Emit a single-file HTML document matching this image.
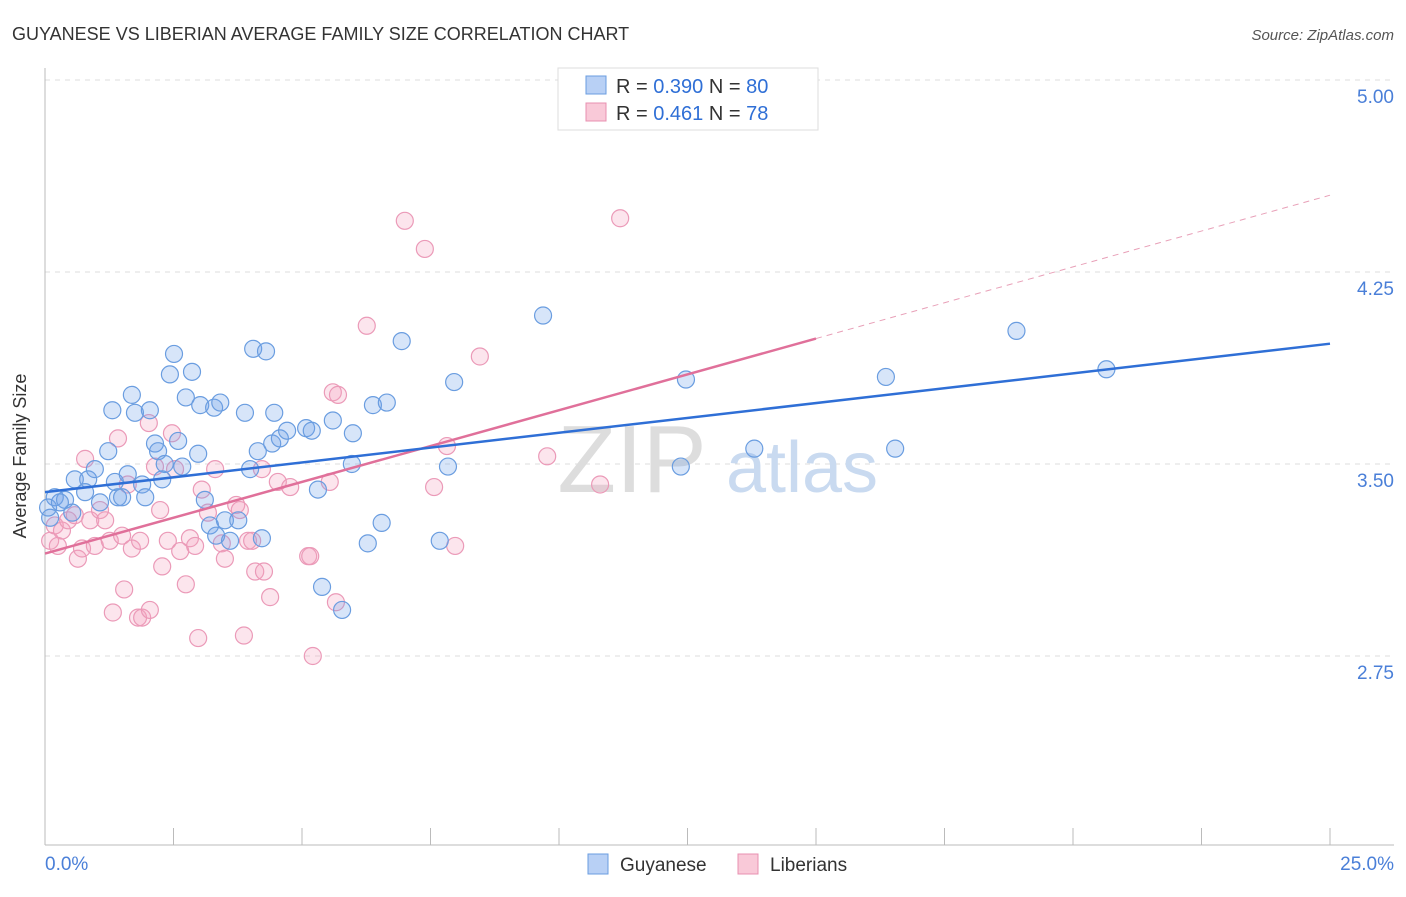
<!DOCTYPE html>
<html><head><meta charset="utf-8"><style>
body{margin:0;background:#fff;font-family:"Liberation Sans",sans-serif;}
svg text{font-family:"Liberation Sans",sans-serif;}
</style></head><body>
<svg width="1406" height="892" xmlns="http://www.w3.org/2000/svg">
<text x="12" y="40" font-size="18" fill="#333">GUYANESE VS LIBERIAN AVERAGE FAMILY SIZE CORRELATION CHART</text>
<text x="1394" y="40" font-size="15" fill="#555" text-anchor="end" font-style="italic">Source: ZipAtlas.com</text>
<g id="grid"></g>
<text x="632" y="492" font-size="96" fill="#ddd" text-anchor="middle">ZIP</text>
<text x="802" y="492" font-size="72" fill="#c9daf0" text-anchor="middle">atlas</text>
<g id="pts"></g>
<g id="lines"></g>
<text x="26" y="456" font-size="18" fill="#333" text-anchor="middle" transform="rotate(-90 26 456)">Average Family Size</text>
<g>
<rect x="558" y="68" width="260" height="62" fill="#fff" stroke="#ddd"/>
<rect x="586" y="76" width="20" height="18" fill="#b8d0f5" stroke="#6a9de0"/>
<text x="616" y="93" font-size="20" fill="#333">R = <tspan fill="#2f6fd6">0.390</tspan>   N = <tspan fill="#2f6fd6">80</tspan></text>
<rect x="586" y="103" width="20" height="18" fill="#f9c9d8" stroke="#e890b0"/>
<text x="616" y="120" font-size="20" fill="#333">R =  <tspan fill="#2f6fd6">0.461</tspan>   N =  <tspan fill="#2f6fd6">78</tspan></text>
</g>
<g>
<rect x="588" y="854" width="20" height="20" fill="#b8d0f5" stroke="#6a9de0"/>
<text x="620" y="871" font-size="19" fill="#333">Guyanese</text>
<rect x="738" y="854" width="20" height="20" fill="#f9c9d8" stroke="#e890b0"/>
<text x="770" y="871" font-size="19" fill="#333">Liberians</text>
</g>
</svg>
<script>
const xTicks=[0,2.5,5,7.5,10,12.5,15,17.5,20,22.5,25];
const yTicks=[2.75,3.5,4.25,5.0];
const yTickLabels=["2.75","3.50","4.25","5.00"];
const blueX=[0.19,0.1,0.06,0.39,0.53,0.29,0.58,0.84,0.97,0.78,1.07,1.23,1.31,1.36,1.42,1.5,1.61,1.69,1.75,1.89,1.95,2.04,2.14,2.2,2.28,2.33,2.43,2.51,2.59,2.67,2.74,2.86,2.98,3.02,3.11,3.21,3.29,3.33,3.41,3.5,3.6,3.76,3.89,3.99,4.05,4.14,4.22,4.3,4.42,4.46,4.57,4.71,5.08,5.19,5.31,5.39,5.6,5.78,5.97,5.99,6.28,6.38,6.55,6.65,6.94,7.68,7.84,7.96,9.69,12.37,12.47,13.8,16.36,16.54,18.9,20.65];
const blueY=[3.37,3.29,3.33,3.36,3.31,3.35,3.44,3.44,3.48,3.39,3.35,3.55,3.71,3.43,3.37,3.37,3.46,3.77,3.7,3.42,3.37,3.71,3.58,3.55,3.44,3.5,3.85,3.93,3.59,3.49,3.76,3.86,3.54,3.73,3.36,3.26,3.72,3.22,3.74,3.28,3.2,3.28,3.7,3.48,3.95,3.55,3.21,3.94,3.58,3.7,3.6,3.63,3.64,3.63,3.4,3.02,3.67,2.93,3.5,3.62,3.19,3.73,3.27,3.74,3.98,3.2,3.49,3.82,4.08,3.49,3.83,3.56,3.84,3.56,4.02,3.87];
const pinkX=[0.1,0.19,0.25,0.33,0.45,0.58,0.64,0.72,0.78,0.88,0.97,1.07,1.17,1.26,1.32,1.42,1.5,1.54,1.61,1.69,1.81,1.85,1.89,2.02,2.04,2.14,2.24,2.28,2.39,2.47,2.53,2.63,2.74,2.82,2.92,2.98,3.05,3.17,3.31,3.44,3.5,3.72,3.79,3.87,3.95,4.03,4.09,4.22,4.26,4.38,4.53,4.77,5.12,5.16,5.21,5.54,5.6,5.66,5.7,6.26,7.0,7.39,7.57,7.82,7.98,8.46,9.77,10.8,11.19];
const pinkY=[3.2,3.26,3.18,3.24,3.28,3.3,3.13,3.17,3.52,3.28,3.18,3.32,3.28,3.2,2.92,3.6,3.22,3.01,3.42,3.17,2.9,3.2,2.9,3.66,2.93,3.49,3.32,3.1,3.2,3.62,3.48,3.16,3.03,3.21,3.18,2.82,3.4,3.31,3.48,3.19,3.13,3.34,3.32,2.83,3.2,3.2,3.08,3.48,3.08,2.98,3.43,3.41,3.14,3.14,2.75,3.43,3.78,2.96,3.77,4.04,4.45,4.34,3.41,3.57,3.18,3.92,3.53,3.42,4.46];
const blueFit=[3.39,3.97];
const pinkFit=[3.15,4.55];
const pinkSolidEnd=15;
const NS="http://www.w3.org/2000/svg";
const X=v=>45+v*51.4, Y=v=>80+(5-v)*256;
function mk(tag,attrs,parent){const e=document.createElementNS(NS,tag);for(const k in attrs)e.setAttribute(k,attrs[k]);parent.appendChild(e);return e;}
const grid=document.getElementById('grid');
yTicks.forEach((t,i)=>{
 const l=mk('line',{x1:45,x2:1394,y1:Y(t),y2:Y(t),stroke:'#ddd','stroke-dasharray':'5,5'},grid);
 
 
 const tx=mk('text',{x:1394,y:Y(t)+23,'font-size':19,fill:'#4a7fd8','text-anchor':'end'},grid);
 tx.textContent=yTickLabels[i];
 
 
});
const ax=mk('line',{x1:45,x2:45,y1:68,y2:845,stroke:'#bbb'},grid);


const bx=mk('line',{x1:45,x2:1394,y1:845,y2:845,stroke:'#bbb'},grid);


xTicks.forEach(t=>{const l=mk('line',{x1:X(t),x2:X(t),y1:828,y2:845,stroke:'#bbb'},grid);
 
 });
const xl0=mk('text',{x:45,y:870,'font-size':19,fill:'#4a7fd8'},grid);xl0.textContent=xTicks[0].toFixed(1)+'%';


const xl1=mk('text',{x:1394,y:870,'font-size':19,fill:'#4a7fd8','text-anchor':'end'},grid);xl1.textContent=xTicks[xTicks.length-1].toFixed(1)+'%';


const pts=document.getElementById('pts');
pinkX.forEach((x,i)=>{const c=mk('circle',{cx:X(x),cy:Y(pinkY[i]),r:8.5,fill:'rgba(244,160,190,0.28)',stroke:'#eb9ab8','stroke-width':1.2},pts);
 
 });
blueX.forEach((x,i)=>{const c=mk('circle',{cx:X(x),cy:Y(blueY[i]),r:8.5,fill:'rgba(110,160,235,0.28)',stroke:'#6a9de0','stroke-width':1.2},pts);
 
 });
const lines=document.getElementById('lines');
const pf=x=>pinkFit[0]+(pinkFit[1]-pinkFit[0])*x/25;
const pd=mk('line',{x1:X(pinkSolidEnd),y1:Y(pf(pinkSolidEnd)),x2:X(25),y2:Y(pinkFit[1]),stroke:'#e8a0b8','stroke-dasharray':'6,5','stroke-width':1},lines);


const ps=mk('line',{x1:X(0),y1:Y(pinkFit[0]),x2:X(pinkSolidEnd),y2:Y(pf(pinkSolidEnd)),stroke:'#e0709a','stroke-width':2.5},lines);


const bl=mk('line',{x1:X(0),y1:Y(blueFit[0]),x2:X(25),y2:Y(blueFit[1]),stroke:'#2f6fd6','stroke-width':2.5},lines);


</script>
</body></html>
